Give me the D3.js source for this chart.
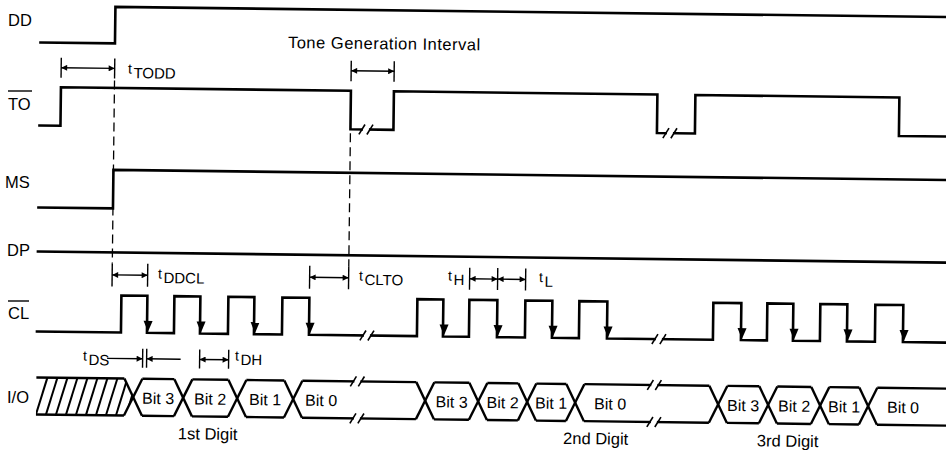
<!DOCTYPE html>
<html>
<head>
<meta charset="utf-8">
<title>Timing diagram</title>
<script src="https://d3js.org/d3.v7.min.js"></script>
<style>
  body { margin: 0; background: #fff; }
  svg { display: block; background: #fff; font-family: "Liberation Sans", Arial, Helvetica, sans-serif; }
  .sig { fill: none; stroke: #000; stroke-width: 2.6; stroke-linejoin: miter; stroke-linecap: square; }
  .bus { fill: none; stroke: #000; stroke-width: 2.4; stroke-linecap: butt; }
  .hatch { stroke: #000; stroke-width: 2; }
  .dim { stroke: #000; stroke-width: 1.4; fill: none; }
  .dash { stroke: #000; stroke-width: 1.3; stroke-dasharray: 9,5; }
  .brk { stroke: #000; stroke-width: 1.6; }
  .gap { stroke: #fff; stroke-width: 6; }
</style>
</head>
<body>
<svg width="946" height="450"></svg>
<script>
// signal names, top to bottom
var signals = ["DD", "TO", "MS", "DP", "CL", "I/O"];

// edge times; every signal starts low at tStart and runs past the right edge
var tStart = 41, tEnd = 960;
var ddEdges = [115.5];
var toEdges = [62, 352, 395, 658.5, 696.5, 900.5];
var toBreaks = [367.5, 671.5];
var msEdges = [115.5];
var dpEdges = [];
var clRise = [125, 178, 232, 286, 421, 473, 529, 583, 717, 771, 824, 879];
var clFall = [151, 204, 258, 313, 447, 501, 556, 611, 745, 797, 851, 907];
var clBreaks = [371, 663];

// I/O bus: data change points of each digit
var ioCross = [[138, 188, 242, 298], [430, 483, 532, 580], [723, 773, 825, 873]];
var ioBreaks = [362, 659];
var bitNames = ["Bit 3", "Bit 2", "Bit 1", "Bit 0"];
var bit0Mid = [326, 615, 908];
var digitNames = ["1st Digit", "2nd Digit", "3rd Digit"];
var digitMid = [213, 601, 793];

var svg = d3.select("svg");

var x = d3.scaleLinear().domain([0, 946]).range([0, 946]);
var yLow = d3.scaleOrdinal().domain(signals).range([42, 125, 207, 251, 331, 414]);
var yHigh = d3.scaleOrdinal().domain(signals).range([5.5, 86.5, 168.5, 251, 294, 377]);

// arrow head for dimension lines
svg.append("defs").append("marker")
   .attr("id", "ah")
   .attr("viewBox", "0 0 10 10")
   .attr("refX", 10).attr("refY", 5)
   .attr("markerWidth", 8).attr("markerHeight", 6)
   .attr("markerUnits", "userSpaceOnUse")
   .attr("orient", "auto-start-reverse")
   .append("path").attr("d", "M0,0 L10,5 L0,10 Z").attr("fill", "#000");

// row labels (not rotated)
var labelPos = [[8, 26], [8, 110], [5, 188], [7, 256], [8, 319], [7, 403]];
signals.forEach(function (s, i) {
  svg.append("text").attr("x", labelPos[i][0]).attr("y", labelPos[i][1])
     .attr("font-size", "16.5px").text(s);
});
// overbars on TO and CL
svg.append("line").attr("class", "dim").attr("x1", 8).attr("x2", 32).attr("y1", 91).attr("y2", 91);
svg.append("line").attr("class", "dim").attr("x1", 8).attr("x2", 29).attr("y1", 301).attr("y2", 301);

// the scanned original is tilted a little
var g = svg.append("g").attr("transform", "rotate(0.7)");

function wave(edges, name) {
  var lo = yLow(name), hi = yHigh(name), level = lo;
  var pts = [[x(tStart), lo]];
  edges.forEach(function (t) {
    pts.push([x(t), level]);
    level = level === lo ? hi : lo;
    pts.push([x(t), level]);
  });
  pts.push([x(tEnd), level]);
  return d3.line()(pts);
}

function brk(t, yy) {
  var xx = x(t);
  g.append("line").attr("class", "gap").attr("x1", xx - 3).attr("x2", xx + 3).attr("y1", yy).attr("y2", yy);
  g.append("line").attr("class", "brk").attr("x1", xx - 7).attr("y1", yy + 5).attr("x2", xx - 1).attr("y2", yy - 5);
  g.append("line").attr("class", "brk").attr("x1", xx + 1).attr("y1", yy + 5).attr("x2", xx + 7).attr("y2", yy - 5);
}

g.append("path").attr("class", "sig").attr("d", wave(ddEdges, "DD"));
g.append("path").attr("class", "sig").attr("d", wave(toEdges, "TO"));
g.append("path").attr("class", "sig").attr("d", wave(msEdges, "MS"));
g.append("path").attr("class", "sig").attr("d", wave(dpEdges, "DP"));
var clEdges = clRise.concat(clFall).sort(d3.ascending);
g.append("path").attr("class", "sig").attr("d", wave(clEdges, "CL"));

toBreaks.forEach(function (t) { brk(t, yLow("TO")); });
clBreaks.forEach(function (t) { brk(t, yLow("CL")); });

// arrow heads on CL falling edges
g.selectAll(".clarrow").data(clFall).enter().append("path")
 .attr("class", "clarrow")
 .attr("d", function (t) {
   var xx = x(t) + 1, lo = yLow("CL");
   return "M" + (xx - 4.5) + "," + (lo - 12) + "L" + (xx + 4.5) + "," + (lo - 12) + "L" + xx + "," + (lo - 1) + "Z";
 })
 .attr("fill", "#000");

// I/O bus
var busTop = yHigh("I/O"), busBot = yLow("I/O"), busMid = (busTop + busBot) / 2, h = 9;
var crosses = d3.merge(ioCross);
var bounds = [tStart].concat(crosses, [tEnd]);
d3.pairs(bounds).forEach(function (p) {
  var a = p[0] === tStart ? x(tStart) : x(p[0]) + h;
  var b = p[1] === tEnd ? x(tEnd) : x(p[1]) - h;
  g.append("line").attr("class", "bus").attr("x1", a).attr("x2", b).attr("y1", busTop).attr("y2", busTop);
  g.append("line").attr("class", "bus").attr("x1", a).attr("x2", b).attr("y1", busBot).attr("y2", busBot);
});
crosses.forEach(function (c) {
  g.append("line").attr("class", "bus").attr("x1", x(c) - h).attr("y1", busTop).attr("x2", x(c) + h).attr("y2", busBot);
  g.append("line").attr("class", "bus").attr("x1", x(c) - h).attr("y1", busBot).attr("x2", x(c) + h).attr("y2", busTop);
});
ioBreaks.forEach(function (t) { brk(t, busTop); brk(t, busBot); });

// hatched "don't care" region before the first digit
var c0 = x(ioCross[0][0]);
g.append("clipPath").attr("id", "hclip").append("path")
 .attr("d", d3.line()([[x(tStart), busTop], [c0 - h, busTop], [c0, busMid], [c0 - h, busBot], [x(tStart), busBot]]) + "Z");
var hg = g.append("g").attr("clip-path", "url(#hclip)");
d3.range(x(tStart), c0 + 2, 10).forEach(function (xx) {
  hg.append("line").attr("class", "hatch").attr("x1", xx).attr("y1", busBot).attr("x2", xx + 11).attr("y2", busTop);
});

// bit and digit labels
ioCross.forEach(function (cs, d) {
  bitNames.forEach(function (b, i) {
    var cx = i < 3 ? (x(cs[i]) + x(cs[i + 1])) / 2 : x(bit0Mid[d]);
    g.append("text").attr("x", cx).attr("y", 402).attr("text-anchor", "middle")
     .attr("font-size", "16px").text(b);
  });
  g.append("text").attr("x", x(digitMid[d])).attr("y", 437).attr("text-anchor", "middle")
   .attr("font-size", "16.5px").text(digitNames[d]);
});

// dimension helpers
function bars(ts, y1, y2) {
  ts.forEach(function (t) {
    g.append("line").attr("class", "dim").attr("x1", x(t)).attr("x2", x(t)).attr("y1", y1).attr("y2", y2);
  });
}
function span(t1, t2, yy) {
  g.append("line").attr("class", "dim").attr("x1", x(t1)).attr("x2", x(t2)).attr("y1", yy).attr("y2", yy)
   .attr("marker-start", "url(#ah)").attr("marker-end", "url(#ah)");
}
function arrow(t1, t2, yy) {
  g.append("line").attr("class", "dim").attr("x1", x(t1)).attr("x2", x(t2)).attr("y1", yy).attr("y2", yy)
   .attr("marker-end", "url(#ah)");
}
function tlabel(xx, yy, sub) {
  var t = g.append("text").attr("x", xx).attr("y", yy);
  t.append("tspan").attr("font-size", "14px").attr("dy", -4.5).text("t");
  t.append("tspan").attr("font-size", "15px").attr("dy", 4.5).attr("dx", 1.5).text(sub);
}

// dashed reference lines
g.append("line").attr("class", "dash").attr("x1", x(ddEdges[0])).attr("x2", x(ddEdges[0])).attr("y1", 79).attr("y2", 262);
g.append("line").attr("class", "dash").attr("x1", x(toEdges[1])).attr("x2", x(toEdges[1])).attr("y1", 129).attr("y2", 262);

// tTODD
bars([toEdges[0], ddEdges[0]], 57, 77);
span(toEdges[0], ddEdges[0], 67);
tlabel(129, 76.5, "TODD");

// tone generation interval
bars([toEdges[1], toEdges[2]], 56.5, 77);
span(toEdges[1], toEdges[2], 66.5);
g.append("text").attr("x", 288.5).attr("y", 44.5).attr("font-size", "16.5px")
 .attr("letter-spacing", "0.5px").text("Tone Generation Interval");

// tDDCL
bars([ddEdges[0], clFall[0]], 262, 285);
span(ddEdges[0], clFall[0], 273.5);
tlabel(161.5, 281, "DDCL");

// tCLTO
bars([clFall[3], toEdges[1]], 262, 285);
span(clFall[3], toEdges[1], 273.5);
tlabel(362.5, 280.5, "CLTO");

// tH, tL
bars([clRise[5], clFall[5], clRise[6]], 262, 284);
span(clRise[5], clFall[5], 273);
span(clFall[5], clRise[6], 273);
tlabel(451.5, 279.5, "H");
tlabel(542.5, 280, "L");

// tDS
var dsStart = ioCross[0][0] + h;
bars([dsStart, clFall[0]], 347, 366);
arrow(111.5, dsStart, 357);
arrow(185, clFall[0], 357);
tlabel(87.5, 364, "DS");

// tDH
var dhEnd = ioCross[0][2] - h;
bars([clFall[1], dhEnd], 347, 366);
span(clFall[1], dhEnd, 357);
tlabel(239.5, 362, "DH");
</script>
</body>
</html>
